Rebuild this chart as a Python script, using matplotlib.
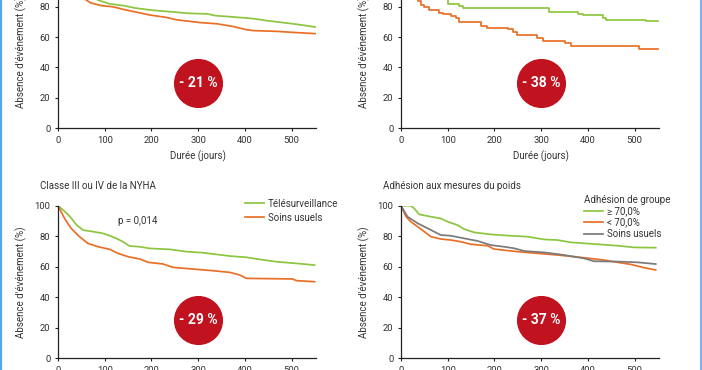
import matplotlib
matplotlib.use("Agg")
from matplotlib import pyplot as plt
from matplotlib.lines import Line2D

plt.rcParams['font.family'] = ['Roboto', 'DejaVu Sans']

GREEN = '#8cc63f'
ORANGE = '#ea6f26'
GREY = '#7a7a7a'
RED = '#c0121f'
TXT = '#333333'

xticks = [0, 100, 200, 300, 400, 500]
yticks = [0, 20, 40, 60, 80, 100]
ylabel = "Absence d'\u00e9v\u00e9nement (%)"
xlabel = "Dur\u00e9e (jours)"

# top left panel
tl_tele_x = [0, 30, 60, 85, 110, 140, 165, 200, 246, 280, 320, 336, 375, 418, 446, 489, 517, 550]
tl_tele_y = [100, 95, 89, 84.5, 82, 80.8, 79.2, 77.8, 76.6, 75.7, 75.3, 74.2, 73.3, 72.2, 70.9, 69.3, 68.2, 66.7]
tl_soins_x = [0, 30, 58, 70, 92, 118, 140, 175, 196, 232, 254, 304, 340, 375, 403, 418, 468, 503, 550]
tl_soins_y = [100, 92, 85, 82.6, 80.8, 80, 78.3, 76, 74.6, 73, 71.4, 69.6, 68.8, 67, 64.9, 64.3, 63.8, 63.1, 62.3]
tl_pct = "- 21 %"

# top right panel (steps)
tr_tele_x = [0, 20, 40, 60, 83, 100, 125, 132, 316, 378, 389, 432, 438, 524, 550]
tr_tele_y = [100, 97, 93, 89, 85, 82, 80.4, 79.2, 76.6, 75.5, 74.4, 72.6, 71.5, 70.4, 70.4]
tr_soins_x = [0, 10, 20, 30, 36, 43, 50, 61, 82, 89, 106, 117, 124, 171, 185, 228, 239, 249, 292, 303, 350, 364, 510, 550]
tr_soins_y = [100, 97, 93, 88, 84, 81.4, 79.9, 78.1, 75.9, 75.1, 74.2, 72.6, 70, 67.5, 66, 65.4, 63.2, 61.6, 59.4, 57.2, 56.2, 54.4, 52, 52]
tr_pct = "- 38 %"

# bottom left panel : NYHA III/IV
bl_tele_x = [0, 11, 26, 40, 54, 75, 96, 111, 125, 139, 153, 175, 197, 239, 275, 310, 339, 368, 403, 432, 467, 510, 549]
bl_tele_y = [100, 97.2, 92.8, 87.3, 84, 83, 81.9, 80.3, 78.6, 76.4, 73.6, 73.1, 72, 71.4, 69.9, 69.2, 68.1, 67, 66.2, 64.8, 63.3, 62.2, 61.1]
bl_soins_x = [0, 14, 28, 46, 64, 86, 111, 128, 150, 175, 193, 225, 246, 289, 332, 368, 389, 403, 502, 510, 549]
bl_soins_y = [100, 91.7, 85.2, 79.7, 75.3, 73.1, 71.4, 68.8, 66.6, 65.1, 62.9, 61.8, 59.6, 58.5, 57.4, 56.3, 54.6, 52.4, 52, 50.9, 50.2]
bl_pct = "- 29 %"

# bottom right panel : adhesion
br_hi_x = [0, 21, 28, 39, 64, 85, 100, 121, 135, 157, 192, 235, 271, 306, 335, 363, 413, 463, 498, 545]
br_hi_y = [100, 100, 98.3, 94.3, 92.8, 91.7, 89.5, 87.3, 84.7, 82.5, 81.2, 80.3, 79.7, 77.9, 77.5, 76, 74.9, 73.8, 72.7, 72.5]
br_lo_x = [0, 11, 21, 36, 50, 64, 85, 107, 128, 150, 185, 199, 249, 292, 335, 392, 434, 463, 491, 520, 545]
br_lo_y = [100, 92.8, 89.5, 86.2, 83, 79.7, 78.2, 77.5, 76.4, 74.7, 73.8, 71.6, 69.9, 68.8, 67.7, 65.9, 64.4, 62.9, 61.6, 59.4, 57.9]
br_soins_x = [0, 14, 36, 57, 85, 107, 135, 164, 192, 221, 242, 264, 306, 349, 392, 413, 463, 506, 545]
br_soins_y = [100, 92.8, 88.4, 85.2, 80.8, 80.3, 78.6, 76.9, 74.2, 73.1, 72.1, 70.3, 69.4, 67.7, 65.5, 63.6, 63.4, 62.9, 61.8]
br_pct = "- 37 %"


def setup(ax):
    ax.set_xlim(0, 552)
    ax.set_ylim(0, 100)
    ax.set_xticks(xticks)
    ax.set_yticks(yticks)
    for s in ['top', 'right']:
        ax.spines[s].set_visible(False)
    for s in ['left', 'bottom']:
        ax.spines[s].set_linewidth(0.9)
        ax.spines[s].set_color('#222222')
    ax.tick_params(labelsize=6.8, length=2.5, width=0.8, pad=3,
                   colors='#222222', labelcolor=TXT)
    ax.set_ylabel(ylabel, fontsize=7, color=TXT)
    ax.yaxis.set_label_coords(-0.12, 0.5)


def badge(ax, y, txt):
    ax.scatter([300], [y], s=1250, color=RED, linewidths=0, zorder=4)
    ax.text(300, y, txt, color='white', fontsize=10, fontweight='bold',
            ha='center', va='center', zorder=5)


fig = plt.figure(figsize=(7.02, 3.70), dpi=100)
ax1 = fig.add_axes([0.0826, 0.654, 0.3675, 0.4095])
ax2 = fig.add_axes([0.5712, 0.654, 0.3675, 0.4095])
ax3 = fig.add_axes([0.0826, 0.0316, 0.3675, 0.4124])
ax4 = fig.add_axes([0.5712, 0.0316, 0.3675, 0.4124])

for ax in [ax1, ax2, ax3, ax4]:
    setup(ax)

lw = 1.25
ax1.plot(tl_tele_x, tl_tele_y, color=GREEN, lw=lw)
ax1.plot(tl_soins_x, tl_soins_y, color=ORANGE, lw=lw)
badge(ax1, 30, tl_pct)

ax2.plot(tr_tele_x, tr_tele_y, color=GREEN, lw=lw, drawstyle='steps-post')
ax2.plot(tr_soins_x, tr_soins_y, color=ORANGE, lw=lw, drawstyle='steps-post')
badge(ax2, 30, tr_pct)

for ax in [ax1, ax2]:
    ax.set_xlabel(xlabel, fontsize=7, color=TXT)
    ax.xaxis.set_label_coords(300 / 552., -0.15)

ax3.plot(bl_tele_x, bl_tele_y, color=GREEN, lw=lw, label="T\u00e9l\u00e9surveillance")
ax3.plot(bl_soins_x, bl_soins_y, color=ORANGE, lw=lw, label="Soins usuels")
badge(ax3, 25, bl_pct)
ax3.text(128, 90, "p = 0,014", fontsize=7, color=TXT, va='center')
ax3.legend(loc='upper left', bbox_to_anchor=(0.725, 1.045), frameon=False,
           fontsize=7, handlelength=2.0, handletextpad=0.35,
           labelspacing=0.4, borderpad=0, borderaxespad=0, labelcolor=TXT)
ax3.text(-0.07, 1.13, "Classe III ou IV de la NYHA", transform=ax3.transAxes,
         fontsize=7, color=TXT, va='center')

ax4.plot(br_hi_x, br_hi_y, color=GREEN, lw=lw, label="\u2265 70,0%")
ax4.plot(br_lo_x, br_lo_y, color=ORANGE, lw=lw, label="< 70,0%")
ax4.plot(br_soins_x, br_soins_y, color=GREY, lw=lw, label="Soins usuels")
badge(ax4, 25, br_pct)
leg = ax4.legend(loc='upper left', bbox_to_anchor=(0.709, 1.072), frameon=False,
                 fontsize=7, handlelength=2.0, handletextpad=0.35,
                 labelspacing=0.15, borderpad=0, borderaxespad=0, labelcolor=TXT,
                 title="Adh\u00e9sion de groupe", title_fontsize=7,
                 alignment='left')
leg.get_title().set_color(TXT)
ax4.text(-0.07, 1.13, "Adh\u00e9sion aux mesures du poids", transform=ax4.transAxes,
         fontsize=7, color=TXT, va='center')

# blue frame edges
fig.add_artist(Line2D([1.2 / 702, 1.2 / 702], [0, 1], transform=fig.transFigure,
                      color='#5aa7e8', lw=1.6))
fig.add_artist(Line2D([700.5 / 702, 700.5 / 702], [0, 1], transform=fig.transFigure,
                      color='#5aa7e8', lw=1.2))

fig.savefig("out.png", dpi=100)
